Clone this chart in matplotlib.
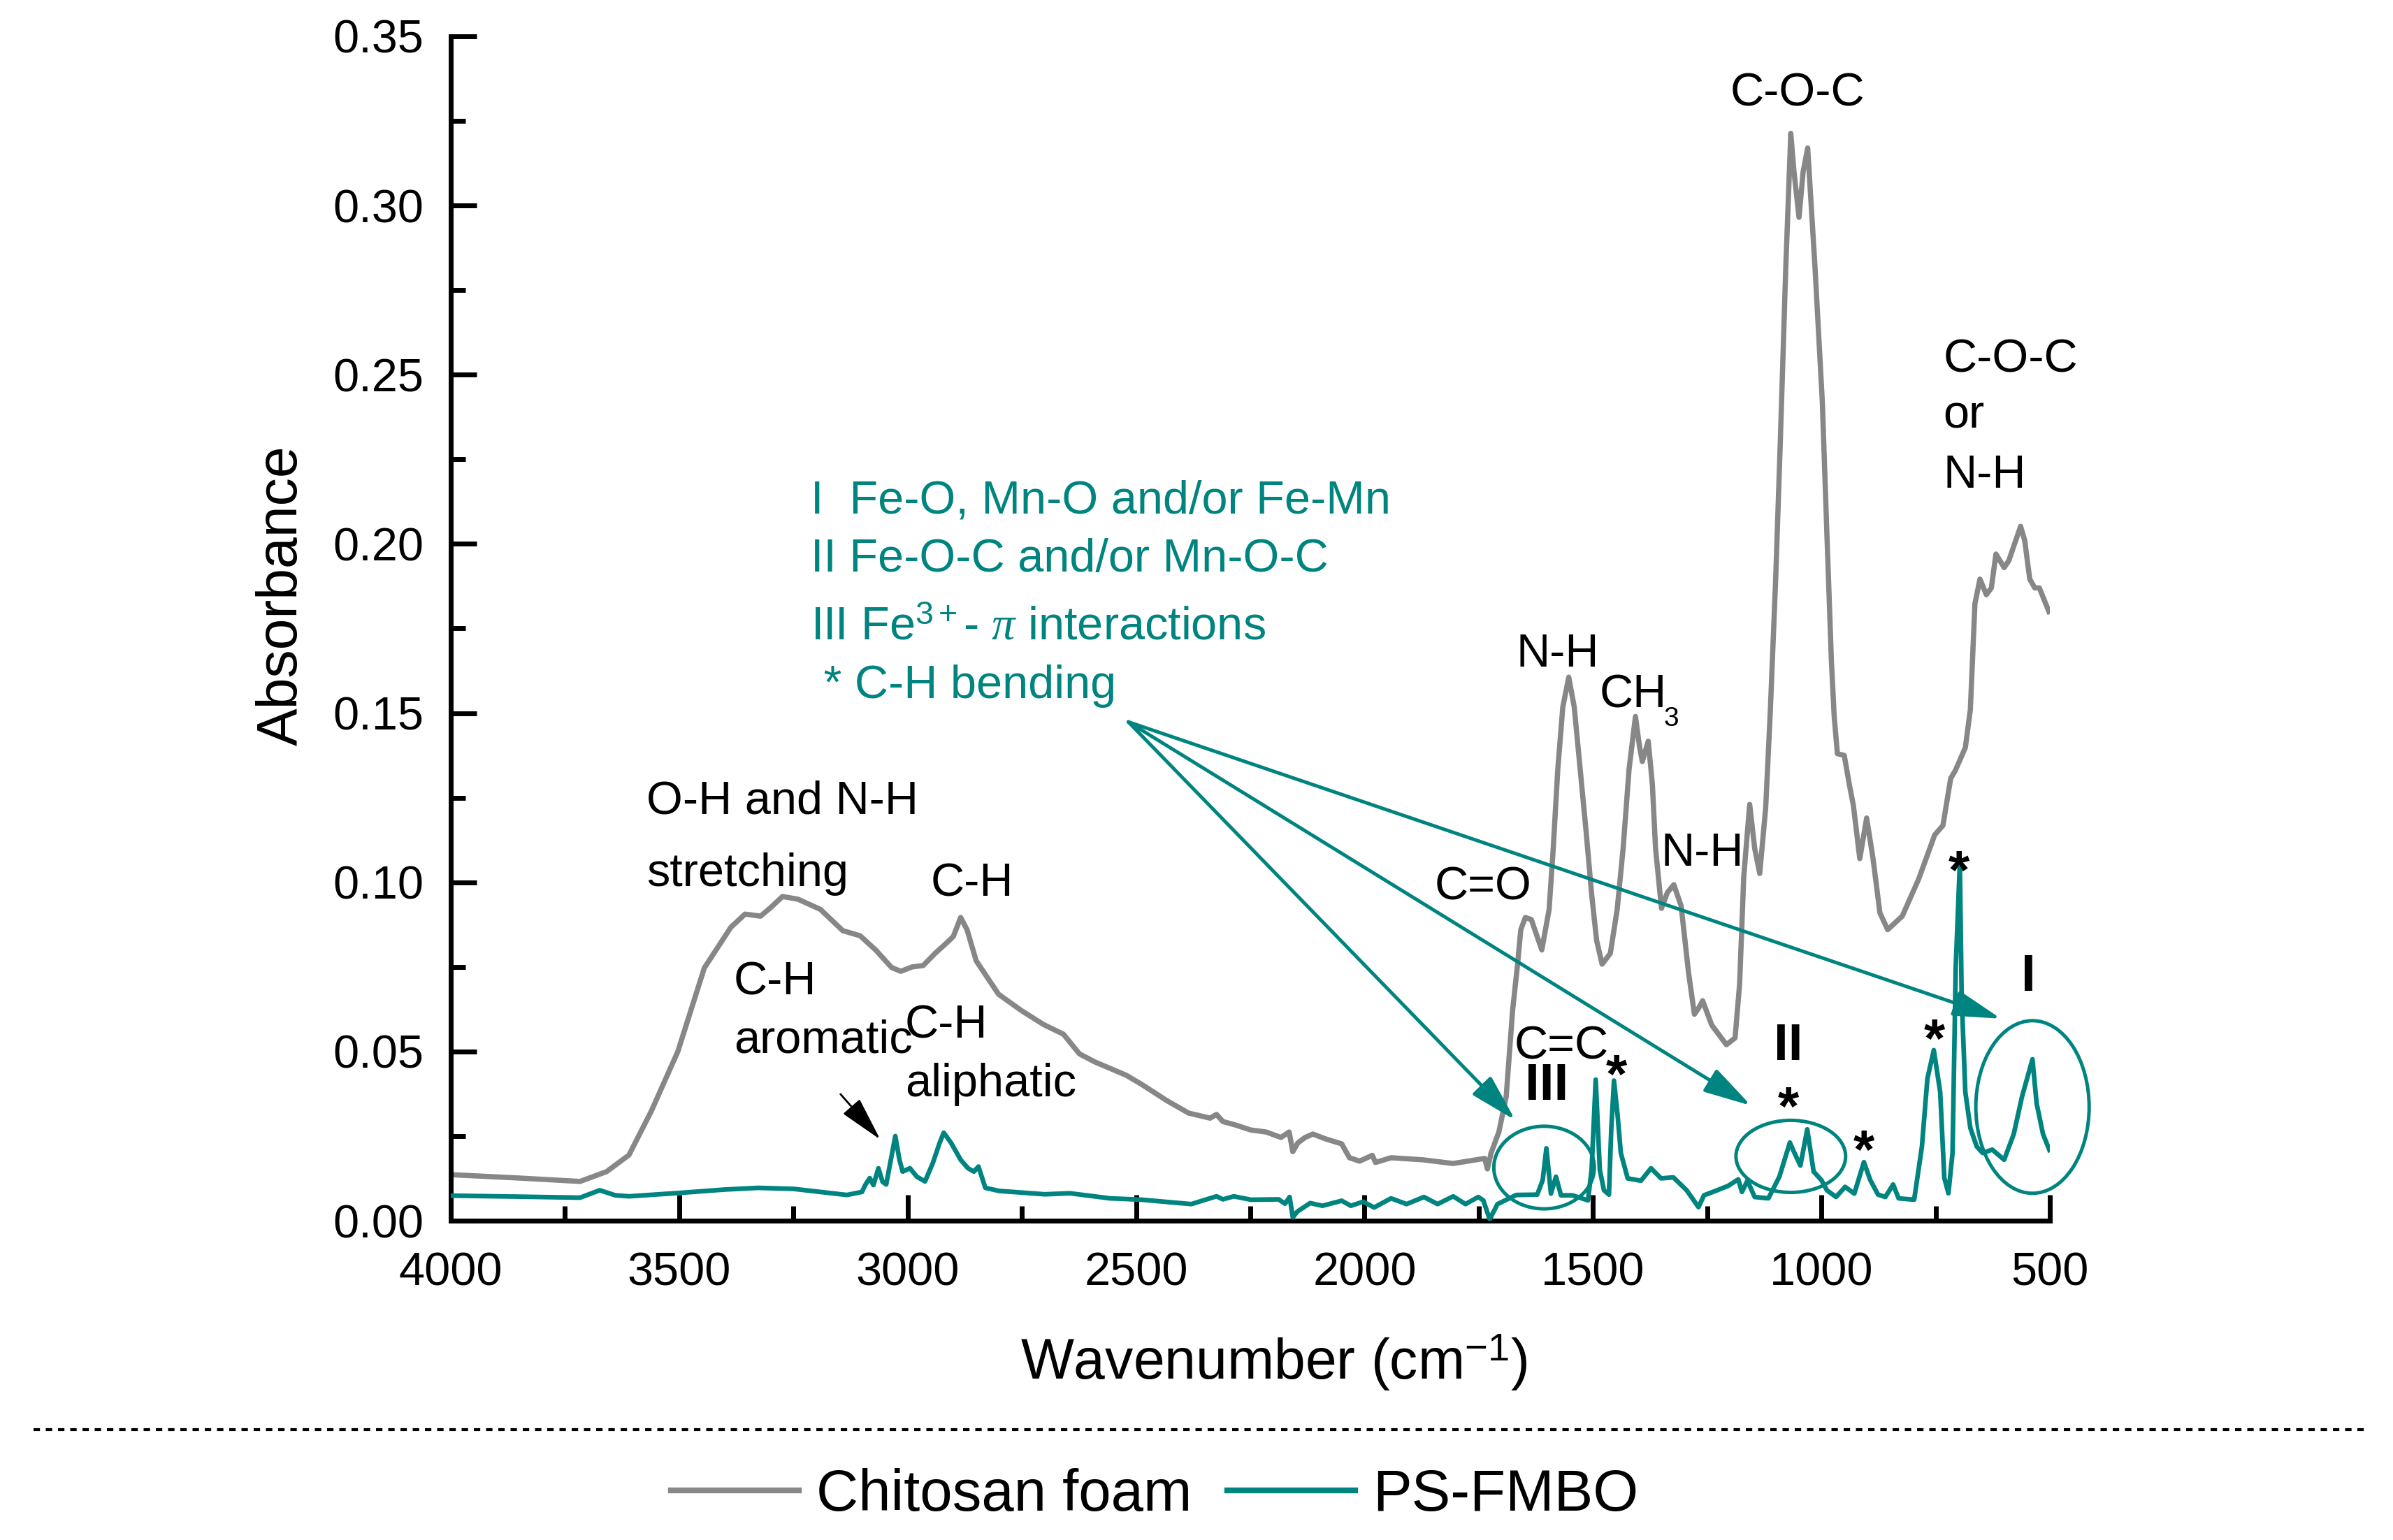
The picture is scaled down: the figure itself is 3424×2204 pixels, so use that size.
import matplotlib
matplotlib.use('Agg')
import matplotlib.pyplot as plt
from matplotlib.patches import Ellipse
from matplotlib.lines import Line2D
from matplotlib.ticker import MultipleLocator, FormatStrFormatter

plt.rcParams['font.family'] = ['Liberation Sans', 'DejaVu Sans']
plt.rcParams['mathtext.fontset'] = 'custom'
plt.rcParams['mathtext.rm'] = 'Liberation Sans'
plt.rcParams['mathtext.it'] = 'Liberation Serif:italic'
plt.rcParams['mathtext.bf'] = 'Liberation Sans:bold'

# ---------------- data ----------------
chitosan_wn = [4000, 3850, 3717, 3659, 3610, 3561, 3503, 3445, 3387, 3356, 3322, 3300, 3274, 3240,
               3191, 3142, 3104, 3070, 3035, 3015, 2990, 2966, 2940, 2917, 2900, 2884, 2870, 2850,
               2801, 2750, 2703, 2659, 2624, 2590, 2522, 2488, 2433, 2385, 2338, 2324, 2310, 2283,
               2249, 2215, 2183, 2165, 2157, 2146, 2130, 2113, 2086, 2050, 2033, 2011, 1983, 1976,
               1942, 1873, 1806, 1737, 1731, 1723, 1706, 1690, 1676, 1665, 1658, 1648, 1635, 1612,
               1596, 1587, 1577, 1566, 1553, 1541, 1528, 1515, 1503, 1492, 1480, 1462, 1447, 1434,
               1421, 1407, 1398, 1392, 1379, 1370, 1363, 1350, 1337, 1323, 1307, 1291, 1278, 1268,
               1260, 1240, 1208, 1189, 1179, 1170, 1157, 1146, 1135, 1122, 1112, 1100, 1090, 1078,
               1067, 1060, 1049, 1040, 1030, 1014, 998, 988, 978, 972, 965, 950, 939, 930, 916, 901,
               887, 872, 855, 823, 787, 752, 734, 717, 707, 685, 674, 664, 653, 639, 628, 618, 600,
               590, 564, 555, 544, 533, 523, 502]
chitosan_abs = [0.0136, 0.0126, 0.0116, 0.0145, 0.0194, 0.0324, 0.0500, 0.0747, 0.0867, 0.0906, 0.0900,
                0.0925, 0.0958, 0.0950, 0.0920, 0.0857, 0.0842, 0.0800, 0.0748, 0.0737, 0.0750, 0.0754,
                0.0790, 0.0818, 0.0840, 0.0896, 0.0860, 0.0768, 0.0669, 0.0620, 0.0580, 0.0551, 0.0493,
                0.0469, 0.0430, 0.0403, 0.0355, 0.0318, 0.0303, 0.0314, 0.0293, 0.0283, 0.0268, 0.0262,
                0.0246, 0.0262, 0.0204, 0.0230, 0.0246, 0.0256, 0.0242, 0.0227, 0.0186, 0.0176, 0.0193,
                0.0172, 0.0186, 0.0180, 0.0169, 0.0184, 0.0153, 0.0200, 0.0262, 0.0366, 0.0620, 0.0758,
                0.0860, 0.0896, 0.0890, 0.0800, 0.0920, 0.1100, 0.1334, 0.1518, 0.1606, 0.1518, 0.1334,
                0.1150, 0.0966, 0.0828, 0.0758, 0.0790, 0.0920, 0.1100, 0.1334, 0.1490, 0.1400, 0.1357,
                0.1417, 0.1290, 0.1100, 0.0923, 0.0970, 0.0993, 0.0930, 0.0735, 0.0610, 0.0630, 0.0650,
                0.0578, 0.0520, 0.0540, 0.0700, 0.1016, 0.1230, 0.1100, 0.1026, 0.1220, 0.1500, 0.1900,
                0.2300, 0.2817, 0.3213, 0.3100, 0.2965, 0.3100, 0.3170, 0.2817, 0.2420, 0.2030, 0.1650,
                0.1490, 0.1380, 0.1375, 0.1290, 0.1227, 0.1070, 0.1190, 0.1070, 0.0910, 0.0860, 0.0900,
                0.1010, 0.1140, 0.1168, 0.1307, 0.1330, 0.1398, 0.1510, 0.1823, 0.1896, 0.1850, 0.1870,
                0.1970, 0.1930, 0.1950, 0.2052, 0.2010, 0.1896, 0.1870, 0.1870, 0.1800]

psfmbo_wn = [4000, 3850, 3717, 3674, 3640, 3610, 3500, 3400, 3327, 3250, 3133, 3100, 3093, 3083, 3075,
             3064, 3055, 3047, 3027, 3018, 3011, 2995, 2980, 2962, 2945, 2930, 2921, 2905, 2884, 2868,
             2855, 2845, 2830, 2800, 2700, 2645, 2557, 2488, 2379, 2353, 2324, 2310, 2286, 2249, 2188,
             2174, 2164, 2157, 2147, 2119, 2092, 2050, 2030, 2003, 1979, 1942, 1908, 1870, 1840, 1806,
             1779, 1751, 1740, 1726, 1709, 1668, 1622, 1610, 1602, 1592, 1581, 1570, 1545, 1511, 1503,
             1494, 1485, 1476, 1465, 1460, 1454, 1446, 1439, 1424, 1395, 1373, 1351, 1324, 1295, 1269,
             1257, 1228, 1204, 1182, 1174, 1162, 1146, 1116, 1092, 1069, 1059, 1046, 1031, 1017, 1000,
             988, 968, 948, 928, 907, 893, 876, 860, 843, 831, 797, 780, 768, 754, 740, 731, 722, 713,
             706, 697, 693, 685, 674, 660, 647, 626, 600, 579, 561, 538, 529, 515, 501]
psfmbo_abs = [0.0074, 0.0071, 0.0068, 0.0090, 0.0075, 0.0072, 0.0082, 0.0092, 0.0097, 0.0094, 0.0076,
              0.0085, 0.0105, 0.0126, 0.0105, 0.0155, 0.0115, 0.0107, 0.0250, 0.0180, 0.0145, 0.0155,
              0.0130, 0.0116, 0.0170, 0.0230, 0.0260, 0.0230, 0.0180, 0.0155, 0.0145, 0.0160, 0.0097,
              0.0088, 0.0078, 0.0081, 0.0066, 0.0062, 0.0049, 0.0060, 0.0072, 0.0063, 0.0072, 0.0062,
              0.0063, 0.0050, 0.0070, 0.0010, 0.0027, 0.0052, 0.0044, 0.0059, 0.0044, 0.0056, 0.0039,
              0.0066, 0.0049, 0.0070, 0.0049, 0.0072, 0.0049, 0.0070, 0.0060, 0.0004, 0.0049, 0.0076,
              0.0077, 0.0120, 0.0214, 0.0080, 0.0130, 0.0075, 0.0075, 0.0060, 0.0150, 0.0417, 0.0150,
              0.0090, 0.0077, 0.0270, 0.0414, 0.0310, 0.0200, 0.0125, 0.0118, 0.0155, 0.0125, 0.0128,
              0.0090, 0.0040, 0.0075, 0.0090, 0.0103, 0.0122, 0.0085, 0.0118, 0.0070, 0.0066, 0.0130,
              0.0231, 0.0200, 0.0163, 0.0270, 0.0145, 0.0120, 0.0090, 0.0070, 0.0100, 0.0080, 0.0173,
              0.0120, 0.0077, 0.0070, 0.0107, 0.0066, 0.0062, 0.0219, 0.0420, 0.0504, 0.0380, 0.0126,
              0.0081, 0.0200, 0.0750, 0.1057, 0.0660, 0.0380, 0.0274, 0.0219, 0.0200, 0.0210, 0.0180,
              0.0256, 0.0366, 0.0477, 0.0347, 0.0256, 0.0209]

series_labels = ['Chitosan foam', 'PS-FMBO']
x_ticks = [4000, 3500, 3000, 2500, 2000, 1500, 1000, 500]
y_ticks = [0.00, 0.05, 0.10, 0.15, 0.20, 0.25, 0.30, 0.35]

teal_notes = ['I  Fe-O, Mn-O and/or Fe-Mn',
              'II Fe-O-C and/or Mn-O-C',
              r'III Fe$^{\mathrm{3+}}$- $\pi$ interactions',
              ' * C-H bending']

GRAY = '#878787'
TEAL = '#00847f'

# ---------------- figure ----------------
W, H = 3424, 2204
fig = plt.figure(figsize=(W / 200, H / 200), dpi=200)
ax = fig.add_axes([645 / W, 1 - 1747 / H, (2933 - 645) / W, (1747 - 52) / H])

l1, = ax.plot(chitosan_wn, chitosan_abs, color=GRAY, lw=2.7, solid_joinstyle='round', zorder=2)
l2, = ax.plot(psfmbo_wn, psfmbo_abs, color=TEAL, lw=2.4, solid_joinstyle='round', zorder=3)

ax.set_xlim(4000, 500)
ax.set_ylim(0, 0.35)
ax.set_xticks(x_ticks)
ax.set_yticks(y_ticks)
ax.xaxis.set_minor_locator(MultipleLocator(250))
ax.yaxis.set_minor_locator(MultipleLocator(0.025))
ax.yaxis.set_major_formatter(FormatStrFormatter('%.2f'))
for s in ['top', 'right']:
    ax.spines[s].set_visible(False)
for s in ['left', 'bottom']:
    ax.spines[s].set_linewidth(2.5)
ax.tick_params(which='major', direction='in', length=13.3, width=2.5, labelsize=24, pad=14)
ax.tick_params(axis='x', which='major', pad=16)
ax.tick_params(which='minor', direction='in', length=7.6, width=2.5)

ax.set_ylabel('Absorbance', fontsize=29)
ax.yaxis.set_label_coords(-0.089, 0.528)
ax.set_xlabel(r'Wavenumber (cm$^{\mathrm{-1}}$)', fontsize=29)
ax.xaxis.set_label_coords(0.515, -0.094)

# ---------------- annotations (black) ----------------
FS = 24
def t(x, y, s, ha='center', size=FS, weight='normal', color='black'):
    ax.text(x, y, s, ha=ha, va='baseline', fontsize=size, fontweight=weight, color=color,
            clip_on=False)

t(1052, 0.3295, 'C-O-C')
t(733, 0.2507, 'C-O-C', ha='left')
t(733, 0.2343, 'or', ha='left')
t(733, 0.2166, 'N-H', ha='left')
t(1577, 0.1638, 'N-H')
t(1485, 0.1516, 'CH', ha='left')
t(1345, 0.1462, '3', ha='left', size=14)
t(1261, 0.1049, 'N-H')
t(1740, 0.0948, 'C=O')
t(1569, 0.0479, 'C=C')
t(1601, 0.0357, 'III', size=27, weight='bold')
t(1072, 0.0475, 'II', size=27, weight='bold')
t(547, 0.0679, 'I', size=27, weight='bold')
for sx, sy in [(1448, 0.0465), (1072, 0.0372), (907, 0.0242), (752, 0.0572), (699, 0.1068)]:
    t(sx, sy - 0.0088, '*', size=28, weight='bold')

t(3572, 0.1202, 'O-H and N-H', ha='left')
t(3572, 0.0989, 'stretching', ha='left')
t(2859, 0.0960, 'C-H')
t(3381, 0.0669, 'C-H', ha='left')
t(3381, 0.0496, 'aromatic', ha='left')
t(3006, 0.0539, 'C-H', ha='left')
t(3006, 0.0368, 'aliphatic', ha='left')
ax.annotate('', xy=(3060, 0.0240), xytext=(3147, 0.0374),
            arrowprops=dict(arrowstyle='-|>,head_length=0.8,head_width=0.2', mutation_scale=25,
                            color='black', lw=1.0, shrinkA=0, shrinkB=0))

# ---------------- teal notes ----------------
for s, y in zip(teal_notes, [0.2090, 0.1918, 0.1716, 0.1545]):
    t(3212, y, s, ha='left', color=TEAL)

tail = (2517, 0.1474)
for tip in [(1670, 0.0297), (1154, 0.0340), (607, 0.0597)]:
    ax.annotate('', xy=tip, xytext=tail,
                arrowprops=dict(arrowstyle='-|>,head_length=0.55,head_width=0.15', mutation_scale=38,
                                color=TEAL, lw=1.8, shrinkA=0, shrinkB=0), zorder=4)

for (cx, cy, ew, eh) in [(1607, 0.0157, 220, 0.0244), (1067, 0.0190, 240, 0.0213), (538, 0.0336, 248, 0.0510)]:
    ax.add_patch(Ellipse((cx, cy), ew, eh, fill=False, edgecolor=TEAL, lw=1.8, zorder=4, clip_on=False))

# ---------------- legend area ----------------
fig.add_artist(Line2D([0.014, 0.99], [1 - 2046 / H, 1 - 2046 / H], transform=fig.transFigure,
                      color='black', lw=1.5, linestyle=(0, (2.2, 2.0))))
leg = fig.legend([l1, l2], series_labels, loc='center', bbox_to_anchor=(0.4825, 1 - 2140 / H), ncol=2,
                 frameon=False, fontsize=30, handlelength=2.2, handletextpad=0.3, columnspacing=0.6)
for h in leg.legend_handles:
    h.set_linewidth(3.0)

fig.savefig('out.png', dpi=200, facecolor='white')
